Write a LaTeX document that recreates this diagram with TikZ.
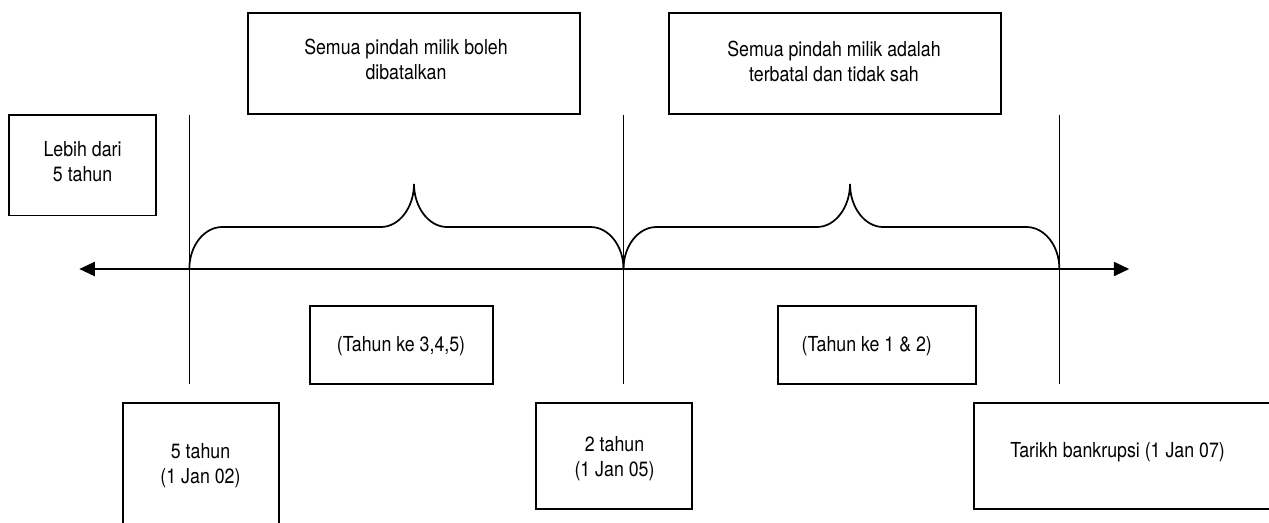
\documentclass[tikz,border=0pt]{standalone}
\usepackage{fontspec}
\setmainfont{TeX Gyre Heros}[FakeStretch=0.86]
\usetikzlibrary{arrows.meta}

% curly brace over the time axis: #1 = left end, #2 = right end, #3 = cusp
\newcommand\timebrace[3]{%
  \draw[bracel] (#1,269) .. controls (#1,245.8) and (#1+14.8,227) .. (#1+33,227)
    -- (#3-33,227) .. controls (#3-14.8,227) and (#3,207.3) .. (#3,184)
    .. controls (#3,207.3) and (#3+14.8,227) .. (#3+33,227)
    -- (#2-33,227) .. controls (#2-14.8,227) and (#2,245.8) .. (#2,269);}

\begin{document}
\begin{tikzpicture}[x=0.75pt,y=-0.75pt,
  box/.style 2 args={draw, line width=1.3pt, rectangle, inner sep=0pt,
    minimum width=#1*0.75pt, minimum height=#2*0.75pt},
  % multi-line labels are placed by the baseline of their last line
  lbl/.style={inner sep=0pt, align=center, anchor=base,
    font=\fontsize{15.5}{18.75}\selectfont},
  lblw/.style={lbl, anchor=base west},
  tick/.style={line width=0.9pt},
  axis/.style={line width=1.6pt, {Triangle[length=11.6pt,width=10.5pt]}-{Triangle[length=11.6pt,width=10.5pt]}},
  bracel/.style={line width=1.3pt}]
\useasboundingbox (0,0) rectangle (1269,522);
\clip (0,0) rectangle (1269,522);

% boxes
\node[box={331.7}{100.7}] (boxA) at (414.2,63.7) {};
\node[box={331.4}{100.7}] (boxB) at (835,63.7) {};
\node[box={147}{100.8}] (lebih) at (82.5,165.1) {};
\node[box={182.7}{78}] (tahunA) at (401.4,345) {};
\node[box={197.9}{78}] (tahunB) at (876.8,345) {};
\node[box={156.3}{120.2}] (fiveY) at (200.9,463.4) {};
\node[box={155.7}{106}] (twoY) at (613.9,456.3) {};
\node[box={316}{106}] (tarikh) at (1132,456.3) {};

% texts
\node[lbl] (tA) at (406,79) {Semua pindah milik boleh\\dibatalkan};
\node[lbl] (tB) at (834,81) {Semua pindah milik adalah\\terbatal dan tidak sah};
\node[lbl] (tL) at (82.6,181.7) {Lebih dari\\5 tahun};
\node[lbl] (tTA) at (401,351) {(Tahun ke 3,4,5)};
\node[lblw] (tTB) at (801.4,351) {(Tahun ke 1 \& 2)};
\node[lbl] (t5) at (200.5,483) {5 tahun\\(1 Jan 02)};
\node[lbl] (t2) at (614.5,476.7) {2 tahun\\(1 Jan 05)};
\node[lblw] (tT) at (1010,457.3) {Tarikh bankrupsi (1 Jan 07)};

% time axis and markers
\coordinate (axL) at (79.3,269);
\coordinate (axR) at (1129.3,269);
\coordinate (m5top) at (189.3,114.7);
\coordinate (m5bot) at (189.3,384);
\coordinate (m2top) at (623.5,114.7);
\coordinate (m2bot) at (623.5,384);
\coordinate (m0top) at (1059.4,114.7);
\coordinate (m0bot) at (1059.4,384);

\draw[tick] (m5top) -- (m5bot);
\draw[tick] (m2top) -- (m2bot);
\draw[tick] (m0top) -- (m0bot);
\draw[axis] (axL) -- (axR);

% braces over the two periods
\timebrace{189.3}{623.5}{414}
\timebrace{623.5}{1059.4}{850}
\end{tikzpicture}
\end{document}
